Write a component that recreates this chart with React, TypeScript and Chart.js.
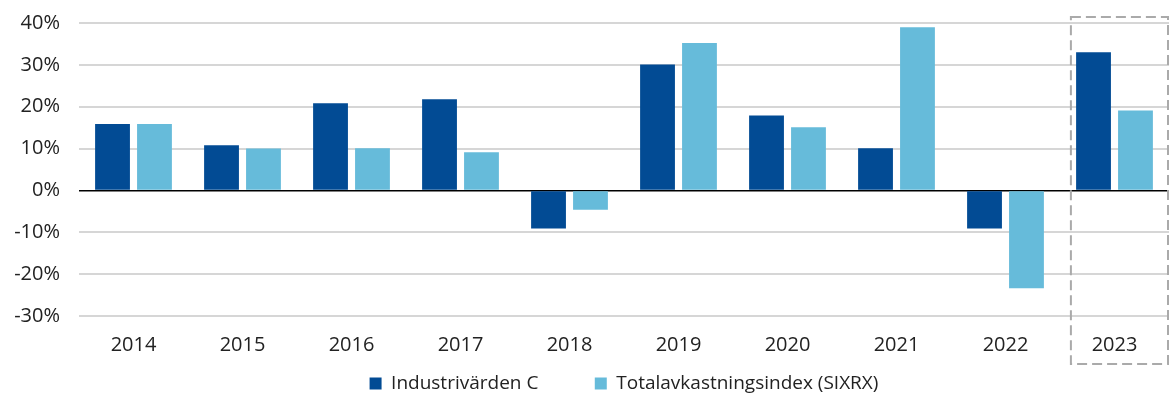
import React, { useEffect, useRef } from "react";
import { Chart, registerables } from "chart.js";

Chart.register(...registerables);

const years = ["2014", "2015", "2016", "2017", "2018", "2019", "2020", "2021", "2022", "2023"];
const industrivarden = [15.9, 10.8, 20.8, 21.8, -9.1, 30.1, 17.9, 10.1, -9.1, 33.0];
const sixrx = [15.9, 10.0, 10.1, 9.1, -4.6, 35.2, 15.1, 39.0, -23.4, 19.1];
const yTicks = [-30, -20, -10, 0, 10, 20, 30, 40];
const seriesLabels = ["Industrivärden C", "Totalavkastningsindex (SIXRX)"];

const DARK = "#024B94";
const LIGHT = "#66BBDA";
const FONT = "'Open Sans'";

const highlightBox = {
  id: "highlightBox",
  afterDraw(chart: any) {
    const x = chart.scales.x;
    const y = chart.scales.y;
    const idx = years.length - 1;
    const cw = (x.right - x.left) / years.length;
    const left = x.getPixelForValue(idx) - cw * 0.4;
    const right = chart.width - 1;
    const top = y.getPixelForValue(40) - 6;
    const bottom = y.bottom + 48;
    const ctx = chart.ctx;
    ctx.save();
    ctx.strokeStyle = "#AAAAAA";
    ctx.lineWidth = 2;
    ctx.setLineDash([10, 5]);
    ctx.strokeRect(left, top, right - left, bottom - top);
    ctx.restore();
  },
};

export default function App() {
  const ref = useRef<HTMLCanvasElement | null>(null);
  useEffect(() => {
    document.body.style.margin = "0";
    const chart = new Chart(ref.current as HTMLCanvasElement, {
      type: "bar",
      data: {
        labels: years,
        datasets: [
          { label: seriesLabels[0], data: industrivarden, backgroundColor: DARK },
          { label: seriesLabels[1], data: sixrx, backgroundColor: LIGHT },
        ],
      },
      options: {
        animation: false,
        responsive: false,
        maintainAspectRatio: false,
        layout: { padding: { top: 23, left: 14, right: 0, bottom: 2 } },
        datasets: { bar: { categoryPercentage: 0.77, barPercentage: 0.83 } },
        scales: {
          x: {
            grid: { display: false, drawTicks: false },
            border: { display: false },
            ticks: { color: "#222", font: { family: FONT, size: 20 }, padding: 17 },
            afterFit(axis: any) {
              axis.height = 46;
              axis.paddingLeft = 0;
              axis.paddingRight = 0;
            },
          },
          y: {
            min: -30,
            max: 40,
            afterBuildTicks(axis: any) {
              axis.ticks = yTicks.map((v) => ({ value: v }));
            },
            afterFit(axis: any) {
              axis.width = 65;
              axis.paddingTop = 0;
              axis.paddingBottom = 0;
            },
            grid: {
              drawTicks: false,
              color: (c: any) => (c.tick && c.tick.value === 0 ? "#000000" : "#D6D6D6"),
              lineWidth: (c: any) => (c.tick && c.tick.value === 0 ? 1.5 : 2),
            },
            border: { display: false },
            ticks: {
              color: "#222",
              font: { family: FONT, size: 20 },
              padding: 19,
              callback: (v: any) => v + "%",
            },
          },
        },
        plugins: {
          legend: {
            position: "bottom",
            fullSize: false,
            labels: {
              color: "#222",
              font: { family: FONT, size: 19 },
              boxWidth: 12,
              boxHeight: 12,
              padding: 12,
              generateLabels(c: any) {
                const items = Chart.defaults.plugins.legend.labels.generateLabels(c);
                items.forEach((it: any, i: number) => {
                  it.text = i === 0 ? seriesLabels[0] + "\u00A0".repeat(9) : seriesLabels[1];
                  it.lineWidth = 0;
                });
                return items;
              },
            },
          },
          tooltip: { enabled: false },
        },
      },
      plugins: [highlightBox],
    });
    return () => chart.destroy();
  }, []);
  return (
    <div style={{ width: 1169, height: 405 }}>
      <canvas ref={ref} width={1169} height={405} />
    </div>
  );
}
